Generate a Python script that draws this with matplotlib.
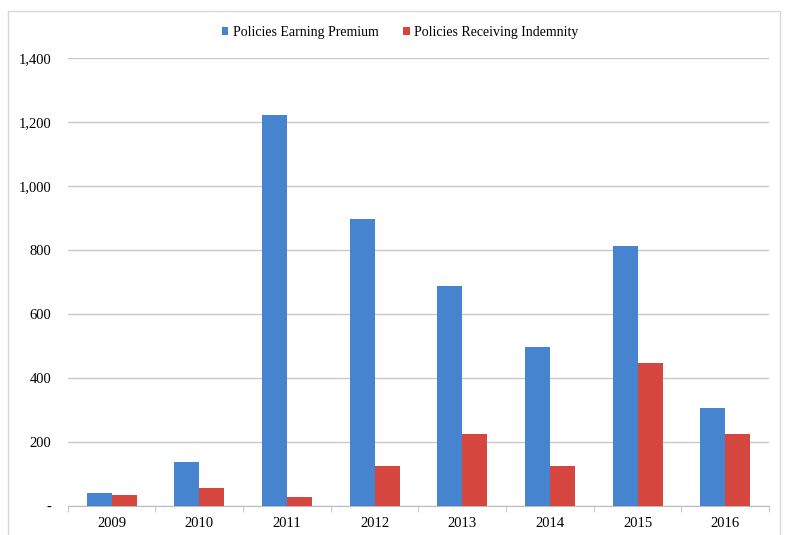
import matplotlib.pyplot as plt
import numpy as np
from matplotlib.patches import Rectangle
from matplotlib.ticker import FuncFormatter

# chart data
years = ["2009", "2010", "2011", "2012", "2013", "2014", "2015", "2016"]
earning_premium = [40, 137, 1222, 897, 687, 497, 812, 306]
receiving_indemnity = [35, 57, 28, 125, 225, 125, 447, 225]

BLUE = "#4684CF"
RED = "#D5463F"

plt.rcParams["font.family"] = ["Liberation Serif", "DejaVu Serif"]

fig = plt.figure(figsize=(7.88, 5.35), dpi=100)
ax = fig.add_axes([0.086, 0.054, 0.89, 0.838])

x = np.arange(len(years))
w = 0.285
ax.bar(x - w / 2, earning_premium, w, color=BLUE, label="Policies Earning Premium", zorder=3)
ax.bar(x + w / 2, receiving_indemnity, w, color=RED, label="Policies Receiving Indemnity", zorder=3)

ax.set_xlim(-0.5, len(years) - 0.5)
ax.set_ylim(0, 1400)
ax.set_yticks(range(0, 1401, 200))
ax.yaxis.set_major_formatter(FuncFormatter(lambda v, p: "-" if v == 0 else f"{int(v):,}"))
ax.grid(axis="y", color="#c8c8c8", linewidth=1, zorder=0)

ax.set_xticks(x)
ax.set_xticklabels(years)
ax.set_xticks(np.arange(-0.5, len(years)), minor=True)
ax.tick_params(axis="x", which="major", length=0, pad=8, labelsize=10.5)
ax.tick_params(axis="x", which="minor", length=4, color="#bbbbbb")
ax.tick_params(axis="y", length=0, pad=12, labelsize=10.5)

for s in ["top", "right", "left"]:
    ax.spines[s].set_visible(False)
ax.spines["bottom"].set_color("#bbbbbb")

ax.legend(loc="upper center", bbox_to_anchor=(0.474, 1.098), ncol=2, frameon=False,
          fontsize=10, handlelength=0.5, handleheight=0.5, columnspacing=1.8,
          handletextpad=0.3)

# light frame around the chart
fig.patches.append(Rectangle((0.01, -0.02), 0.98, 1.0, transform=fig.transFigure,
                             fill=False, edgecolor="#d8d8d8", linewidth=1))

fig.savefig("out.png", dpi=100)
